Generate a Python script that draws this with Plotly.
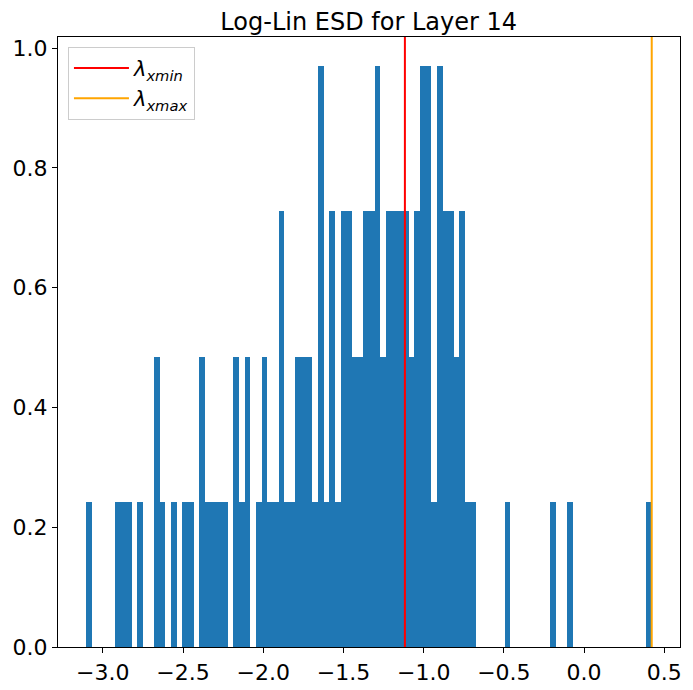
import plotly.graph_objects as go
import numpy as np

# bin counts of the 100-bin histogram (log10 eigenvalues)
counts = [1, 0, 0, 0, 0, 1, 1, 1, 0, 1,
          0, 0, 2, 1, 0, 1, 0, 1, 1, 0,
          2, 1, 1, 1, 1, 0, 2, 1, 2, 0,
          1, 2, 1, 1, 3, 1, 1, 2, 2, 2,
          1, 4, 1, 3, 1, 3, 3, 2, 2, 3,
          3, 4, 2, 3, 3, 3, 3, 2, 3, 4,
          4, 1, 4, 3, 3, 2, 3, 1, 1, 0,
          0, 0, 0, 0, 1, 0, 0, 0, 0, 0,
          0, 0, 1, 0, 0, 1, 0, 0, 0, 0,
          0, 0, 0, 0, 0, 0, 0, 0, 0, 1]
bin_lo = -3.103
bin_hi = 0.4215
lambda_xmin = -1.117
lambda_xmax = 0.4215

x_ticks = [-3.0, -2.5, -2.0, -1.5, -1.0, -0.5, 0.0, 0.5]
x_ticktext = ["−3.0", "−2.5", "−2.0", "−1.5", "−1.0", "−0.5", "0.0", "0.5"]
y_ticks = [0.0, 0.2, 0.4, 0.6, 0.8, 1.0]
y_ticktext = ["0.0", "0.2", "0.4", "0.6", "0.8", "1.0"]

n_bins = len(counts)
bw = (bin_hi - bin_lo) / n_bins
edges = np.linspace(bin_lo, bin_hi, n_bins + 1)
centers = (edges[:-1] + edges[1:]) / 2
density = np.array(counts) / (sum(counts) * bw)

ymax = density.max() * 1.05
span = bin_hi - bin_lo
xr = [bin_lo - 0.05 * span, bin_hi + 0.05 * span]

fig = go.Figure()
fig.add_trace(go.Bar(x=centers, y=density, width=bw,
                     marker=dict(color="#1f77b4", line=dict(width=0)),
                     showlegend=False))
fig.add_trace(go.Scatter(x=[lambda_xmin, lambda_xmin], y=[0, ymax], mode="lines",
                         line=dict(color="red", width=2),
                         name="<i>λ</i><sub><i>xmin</i></sub>"))
fig.add_trace(go.Scatter(x=[lambda_xmax, lambda_xmax], y=[0, ymax], mode="lines",
                         line=dict(color="orange", width=2),
                         name="<i>λ</i><sub><i>xmax</i></sub>"))

axis_style = dict(showline=True, linecolor="black", linewidth=1.2, mirror=True,
                  ticks="outside", ticklen=5, tickwidth=1.2, tickcolor="black",
                  showgrid=False, zeroline=False, automargin=False,
                  tickfont=dict(size=22, color="black"))

fig.update_xaxes(range=xr, tickvals=x_ticks, ticktext=x_ticktext, **axis_style)
fig.update_yaxes(range=[0, ymax], tickvals=y_ticks, ticktext=y_ticktext, **axis_style)

fig.update_layout(
    width=693, height=690,
    margin=dict(l=58, r=13, t=37, b=43),
    plot_bgcolor="white", paper_bgcolor="white",
    font=dict(family="DejaVu Sans", color="black"),
    bargap=0,
    title=dict(text="Log-Lin ESD for Layer 14", x=0.532, xanchor="center",
               y=0.969, yanchor="middle", font=dict(size=24)),
    legend=dict(x=0.016, y=0.984, xanchor="left", yanchor="top",
                bgcolor="rgba(255,255,255,0.8)", bordercolor="#cccccc", borderwidth=1,
                itemwidth=55, font=dict(size=21)),
)

fig.write_html("out.html", config={"displayModeBar": False},
               post_script="document.body.style.margin='0';")
